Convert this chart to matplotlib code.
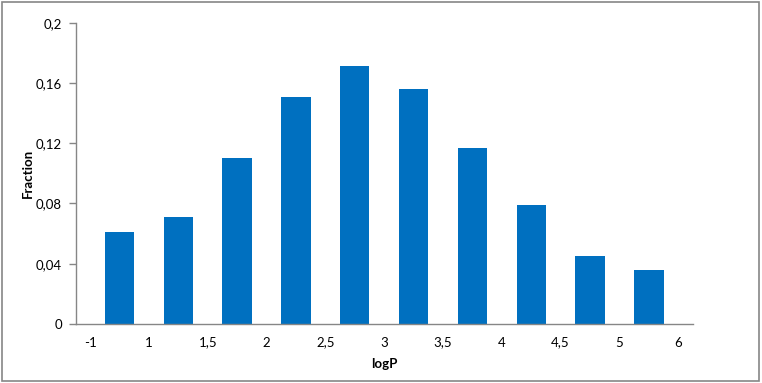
import matplotlib.pyplot as plt
from matplotlib.patches import Rectangle

# histogram data
fractions = [0.061, 0.071, 0.110, 0.151, 0.171, 0.156, 0.117, 0.079, 0.045, 0.036]
edge_labels = ['-1', '1', '1,5', '2', '2,5', '3', '3,5', '4', '4,5', '5', '6']
y_ticks = [0, 0.04, 0.08, 0.12, 0.16, 0.2]
y_labels = ['0', '0,04', '0,08', '0,12', '0,16', '0,2']

plt.rcParams['font.family'] = ['Lato', 'DejaVu Sans']

fig = plt.figure(figsize=(7.62, 3.83), dpi=100)
ax = fig.add_axes([0.0993, 0.154, 0.8097, 0.7867])

centers = [i + 0.5 for i in range(len(fractions))]
ax.bar(centers, fractions, width=0.5, color='#0070C0')

ax.set_xlim(-0.245, len(fractions) + 0.245)
ax.set_ylim(0, 0.2)
ax.set_xticks(range(len(edge_labels)))
ax.set_xticklabels(edge_labels, fontsize=9.5)
ax.set_yticks(y_ticks)
ax.set_yticklabels(y_labels, fontsize=9.5)
ax.tick_params(axis='x', length=0, pad=9)
ax.tick_params(axis='y', length=5, width=1, color='#868686', pad=5)

for side in ['top', 'right']:
    ax.spines[side].set_visible(False)
for side in ['left', 'bottom']:
    ax.spines[side].set_color('#868686')
    ax.spines[side].set_linewidth(1)

ax.set_xlabel('logP', fontsize=9.5, fontweight='bold', labelpad=7)
ax.set_ylabel('Fraction', fontsize=9.5, fontweight='bold', labelpad=1)

# chart area border
fig.patches.append(Rectangle((0.002, 0.006), 0.994, 0.99, transform=fig.transFigure,
                             fill=False, edgecolor='#868686', linewidth=1.2))

plt.savefig('out.png', dpi=100)
